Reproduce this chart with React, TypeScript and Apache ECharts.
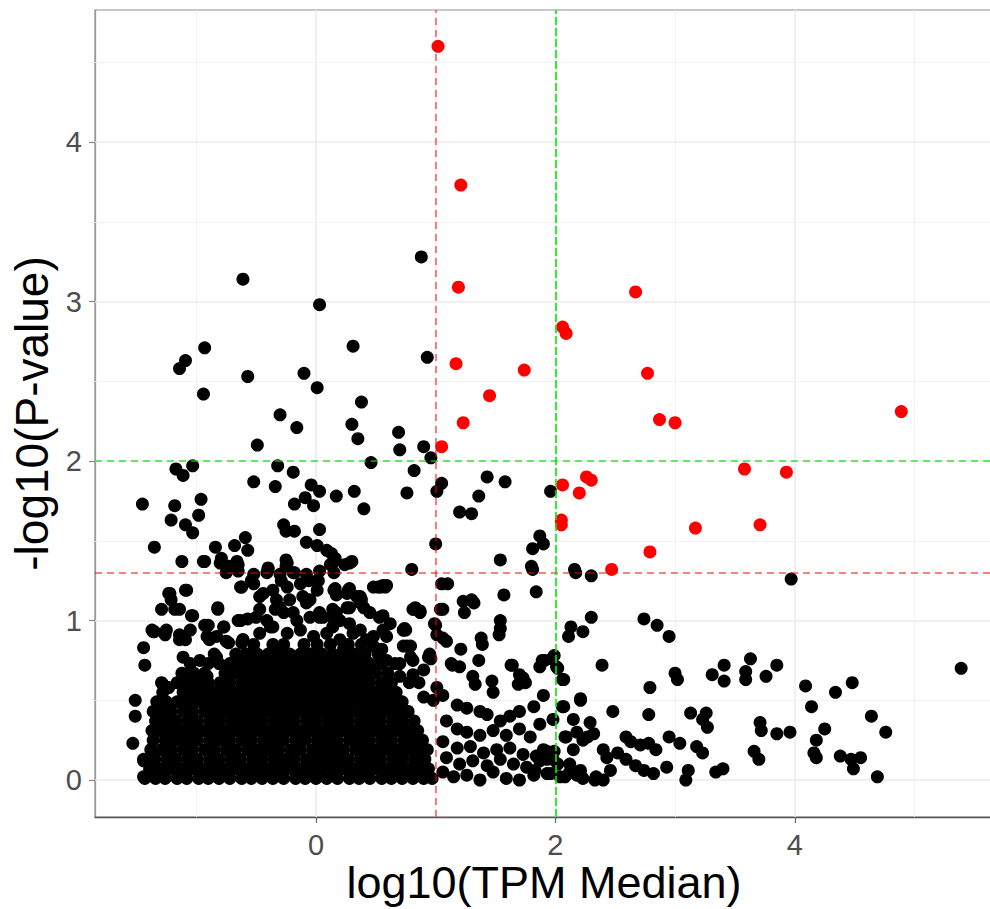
import React, { useEffect, useRef } from "react";
import * as echarts from "echarts";

// ---------------- data ----------------
const xTicks = [0, 2, 4];
const yTicks = [0, 1, 2, 3, 4];
const xMajorGrid = [0, 2, 4];
const xMinorGrid = [-1, 1, 3, 5];
const yMajorGrid = [0, 1, 2, 3, 4];
const yMinorGrid = [0.5, 1.5, 2.5, 3.5, 4.5];

const tpmRedCut = 1; // vertical red dashed
const tpmGreenCut = 2; // vertical green dashed
const pRedCut = 1.3; // horizontal red dashed
const pGreenCut = 2; // horizontal green dashed

// significant genes (red)
const sigGenes: [number, number][] = [
  [1.02, 4.6], [1.21, 3.73], [1.19, 3.09], [2.67, 3.06], [2.06, 2.84], [2.09, 2.8],
  [1.17, 2.61], [1.74, 2.57], [2.77, 2.55], [1.45, 2.41], [1.23, 2.24], [2.87, 2.26],
  [3.0, 2.24], [4.89, 2.31], [1.05, 2.09], [3.58, 1.95], [3.93, 1.93], [2.06, 1.85],
  [2.26, 1.9], [2.3, 1.88], [2.2, 1.8], [2.05, 1.63], [2.05, 1.6], [3.17, 1.58],
  [3.71, 1.6], [2.79, 1.43], [2.47, 1.32],
];

// black genes, sparse upper part
const upperGenes: [number, number][] = [
  [0.88, 3.28], [-0.61, 3.14], [0.03, 2.98], [-0.93, 2.71], [-1.09, 2.63], [-1.14, 2.58],
  [0.31, 2.72], [0.93, 2.65], [-0.57, 2.53], [-0.1, 2.55], [0.01, 2.46], [-0.94, 2.42],
  [0.38, 2.37], [-0.3, 2.29], [-0.16, 2.21], [0.3, 2.23], [0.35, 2.14], [0.69, 2.18],
  [0.7, 2.07], [0.9, 2.09], [0.96, 2.02], [-0.49, 2.1], [0.46, 1.99], [-1.17, 1.95],
  [-1.11, 1.91], [-1.03, 1.97], [-0.32, 1.97], [-0.19, 1.93], [0.82, 1.94], [-0.52, 1.87],
  [-0.34, 1.84], [-0.04, 1.85], [0.03, 1.81], [0.17, 1.78], [0.32, 1.81], [0.4, 1.7],
  [0.76, 1.8], [1.05, 1.86], [1.01, 1.81], [1.43, 1.9], [1.58, 1.87], [1.36, 1.78],
  [1.2, 1.68], [1.3, 1.67], [1.96, 1.81], [-1.45, 1.73], [-1.18, 1.72], [-1.21, 1.63],
  [-0.96, 1.76], [-0.98, 1.66], [-1.09, 1.6], [-1.03, 1.55], [-0.18, 1.73], [-0.09, 1.77],
  [-0.02, 1.72], [-0.27, 1.6], [-0.25, 1.56], [-0.18, 1.56], [0.03, 1.57], [-1.35, 1.46],
  [-0.59, 1.52], [-0.57, 1.44], [-0.68, 1.47], [-0.84, 1.46], [-1.12, 1.37], [-0.93, 1.37],
  [-0.08, 1.49], [0.01, 1.47], [0.09, 1.44], [0.13, 1.42], [0.3, 1.37], [-0.25, 1.38],
  [-0.4, 1.33], [1.0, 1.48], [1.87, 1.53], [1.81, 1.45], [1.9, 1.48], [1.54, 1.38],
  [1.8, 1.34], [2.16, 1.32], [0.8, 1.32], [-0.79, 1.39], [-0.65, 1.35], [-0.73, 1.34],
  [-0.25, 1.34], [0.12, 1.35], [0.24, 1.35], [0.16, 1.39], [0.28, 1.36],
];

// black genes, the band just above the dense core (0.85 < y < 1.4)
const bandGenes: [number, number][] = [
  [-0.75, 1.3], [-0.65, 1.31], [-0.52, 1.29], [-0.41, 1.3], [-0.3, 1.29], [-0.19, 1.3],
  [-0.08, 1.29], [0.03, 1.31], [0.15, 1.3], [-0.94, 1.37], [-0.8, 1.36], [-0.66, 1.37],
  [-0.24, 1.36], [0.15, 1.37], [-1.22, 1.17], [-1.08, 1.19], [-0.63, 1.21], [-0.52, 1.23],
  [-0.47, 1.15], [-0.36, 1.19], [-0.24, 1.21], [-0.13, 1.23], [0.01, 1.25], [0.15, 1.19],
  [0.28, 1.2], [0.37, 1.15], [0.54, 1.21], [0.59, 1.22], [-1.14, 1.07], [-1.03, 1.03],
  [-0.82, 1.07], [-0.63, 1.0], [-0.47, 1.07], [-0.41, 1.0], [-0.3, 1.08], [-0.19, 1.05],
  [-0.08, 1.11], [0.03, 1.05], [0.14, 1.07], [0.26, 1.08], [0.37, 1.11], [0.45, 1.05],
  [0.56, 1.03], [0.81, 1.07], [0.87, 1.06], [1.04, 1.07], [-1.36, 0.93], [-1.25, 0.94],
  [-1.14, 0.88], [-0.9, 0.97], [-0.77, 0.96], [-0.91, 0.9], [-0.75, 0.87], [-0.61, 0.88],
  [-0.47, 0.92], [-0.36, 0.96], [-0.24, 0.92], [-0.13, 0.94], [-0.02, 0.9], [0.09, 0.92],
  [0.2, 0.88], [0.31, 0.92], [0.42, 0.88], [0.59, 0.9], [0.73, 0.94], [0.79, 0.84],
];

// black genes, middle band on the left of x = 1
const midGenes: [number, number][] = [
  [-1.23, 1.17], [-1.09, 1.19], [-1.29, 1.07], [-1.18, 1.07], [-1.04, 1.03], [-0.82, 1.08],
  [-0.62, 1.21], [-0.54, 1.25], [-0.4, 1.32], [-0.29, 1.25], [-0.18, 1.3], [-0.06, 1.25],
  [0.02, 1.25], [0.16, 1.2], [0.27, 1.19], [0.38, 1.13], [0.52, 1.21], [0.58, 1.21],
  [0.83, 1.08], [1.05, 1.23], [-0.44, 1.17], [-0.33, 1.13], [-0.22, 1.13], [-0.11, 1.15],
  [0.01, 1.19], [0.26, 1.17], [0.34, 1.15], [0.48, 1.21], [0.56, 1.22], [-0.93, 0.97],
  [-0.77, 0.96], [-0.83, 0.9], [-1.37, 0.94], [-1.26, 0.91], [-1.14, 0.91], [-1.05, 0.94],
  [-1.44, 0.83], [-1.43, 0.72], [-0.65, 1.0], [-0.61, 0.88], [-0.5, 1.02], [-0.38, 0.96],
  [-0.27, 1.05], [-0.16, 1.0], [-0.05, 1.02], [0.06, 1.02], [0.17, 1.05], [0.28, 1.08],
  [0.4, 1.08], [0.62, 0.98], [0.73, 0.94], [0.53, 1.02], [0.56, 0.94], [0.73, 0.84],
  [0.81, 0.75], [0.9, 0.69], [0.95, 0.79], [-1.11, 0.77], [-0.97, 0.75], [-0.83, 0.77],
  [-1.05, 0.67], [-0.91, 0.65], [-1.29, 0.61], [-1.23, 0.58], [-1.35, 0.93], [-1.21, 1.13],
  [-0.89, 0.88], [-0.73, 0.86], [-1.09, 0.88], [-0.62, 0.86], [-0.59, 0.79], [-0.57, 1.01],
  [-0.34, 1.07], [-1.51, 0.5], [-1.51, 0.4], [-1.53, 0.23], [-1.44, 0.12], [-1.44, 0.02],
  [-1.28, 0.6], [0.74, 0.95], [0.87, 1.05], [0.76, 0.84], [0.79, 0.77], [0.94, 0.77],
  [0.99, 0.98], [1.01, 0.91], [1.01, 0.58], [0.98, 0.5], [0.81, 0.66], [0.86, 0.61],
  [0.9, 0.52], [0.7, 0.65], [0.66, 0.73], [0.17, 1.16], [0.14, 1.02], [0.2, 1.0],
  [-0.05, 1.13], [0.03, 1.02], [0.14, 0.96], [0.28, 0.98], [0.37, 0.94], [0.48, 0.9],
  [0.55, 0.82], [0.48, 0.84], [0.59, 0.75], [0.23, 0.82],
];

// black genes on the right of x = 1, below the red cut
const rightGenes: [number, number][] = [
  [1.13, 0.73], [1.2, 0.71], [1.31, 0.65], [1.33, 0.6], [1.47, 0.62], [1.48, 0.55],
  [1.63, 0.72], [1.7, 0.66], [1.69, 0.6], [1.75, 0.61], [1.87, 0.71], [1.91, 0.75],
  [1.97, 0.76], [2.01, 0.71], [2.07, 0.63], [1.9, 0.53], [2.07, 0.46], [2.21, 0.51],
  [1.06, 0.53], [1.18, 0.47], [1.26, 0.45], [1.37, 0.43], [1.43, 0.41], [1.54, 0.37],
  [1.62, 0.4], [1.7, 0.43], [1.82, 0.46], [1.87, 0.35], [1.98, 0.38], [1.09, 0.37],
  [1.18, 0.32], [1.26, 0.3], [1.37, 0.28], [1.48, 0.31], [1.59, 0.28], [1.7, 0.32],
  [1.79, 0.27], [2.15, 0.38], [2.29, 0.36], [2.09, 0.27], [2.23, 0.25], [2.32, 0.29],
  [1.06, 0.24], [1.18, 0.2], [1.29, 0.21], [1.4, 0.17], [1.51, 0.19], [1.62, 0.2],
  [1.73, 0.16], [1.84, 0.15], [1.93, 0.18], [1.06, 0.05], [1.15, 0.02], [1.26, 0.03],
  [1.37, 0.0], [1.48, 0.05], [1.59, 0.01], [1.7, 0.0], [1.82, 0.03], [1.93, 0.04],
  [2.04, 0.02], [2.12, 0.05], [2.23, 0.01], [2.33, 0.0], [1.09, 0.14], [1.2, 0.1],
  [1.31, 0.12], [1.43, 0.09], [1.54, 0.13], [1.65, 0.1], [1.76, 0.08], [1.87, 0.12],
  [1.98, 0.13], [2.59, 0.27], [2.63, 0.24], [2.71, 0.22], [2.78, 0.23], [2.84, 0.19],
  [2.52, 0.17], [2.59, 0.13], [2.67, 0.09], [2.74, 0.06], [2.82, 0.04], [2.4, 0.19],
  [2.43, 0.14], [2.46, 0.06], [2.34, 0.02], [2.4, 0.0], [2.08, 0.27], [2.18, 0.3],
  [2.27, 0.27], [2.15, 0.19], [2.12, 0.1], [2.21, 0.06], [2.08, 0.02], [2.18, 0.03],
  [1.9, 0.19], [1.93, 0.13], [1.83, 0.06], [1.96, 0.04], [1.99, 0.18], [2.02, 0.1],
  [3.04, 0.23], [3.18, 0.21], [3.23, 0.17], [2.93, 0.08], [2.95, 0.27], [3.09, 0.0],
  [3.11, 0.06], [3.4, 0.07], [3.34, 0.05], [3.66, 0.18], [3.7, 0.13], [4.16, 0.17],
  [4.18, 0.14], [4.38, 0.15], [4.47, 0.13], [4.55, 0.14], [4.49, 0.07], [4.69, 0.02],
  [4.14, 0.46], [4.25, 0.32], [4.18, 0.25], [4.64, 0.4], [4.76, 0.3], [3.71, 0.36],
  [3.72, 0.31], [3.85, 0.29], [3.96, 0.3], [3.13, 0.42], [3.26, 0.42], [3.23, 0.38],
  [3.27, 0.33], [2.78, 0.41], [2.48, 0.43], [2.21, 0.5], [2.06, 0.46], [2.06, 0.63],
  [2.79, 0.58], [3.0, 0.67], [3.02, 0.63], [3.31, 0.66], [3.41, 0.72], [3.41, 0.62],
  [3.59, 0.68], [3.59, 0.63], [3.63, 0.76], [3.76, 0.65], [3.85, 0.72], [4.09, 0.59],
  [4.34, 0.55], [4.48, 0.61], [5.39, 0.7], [2.39, 0.72], [2.13, 0.96], [2.11, 0.9],
  [2.23, 0.93], [2.3, 1.02], [2.74, 1.01], [2.85, 0.97], [2.95, 0.9], [1.54, 1.0],
  [1.54, 0.95], [1.53, 0.91], [1.38, 0.89], [1.39, 0.85], [1.06, 0.89], [1.09, 0.87],
  [1.21, 0.82], [0.96, 0.76], [1.14, 0.72], [1.36, 0.75], [1.64, 0.72], [1.73, 0.64],
  [1.89, 0.75], [1.99, 0.78], [2.02, 0.7], [0.75, 0.94], [1.0, 0.97], [1.06, 1.07],
  [0.82, 1.07], [1.23, 1.12], [1.32, 1.11], [1.24, 1.05], [1.57, 1.16], [1.84, 1.18],
  [1.3, 1.13], [1.1, 1.23], [3.97, 1.26], [2.17, 1.3], [2.3, 1.28], [1.81, 1.32],
];

// black genes, the dense core: each row is [-log10 p, list of log10 TPM]
const coreRows: [number, number[]][] = [
  [0.01, [-1.43, -1.34, -1.26, -1.16, -1.08, -0.98, -0.9, -0.81, -0.72, -0.62, -0.54, -0.45, -0.36, -0.27, -0.17, -0.09, 0.0, 0.09, 0.18, 0.28, 0.36, 0.45, 0.55, 0.63, 0.72, 0.81, 0.9, 0.97]],
  [0.07, [-1.39, -1.3, -1.21, -1.12, -1.03, -0.94, -0.85, -0.76, -0.67, -0.58, -0.49, -0.4, -0.31, -0.22, -0.13, -0.04, 0.05, 0.14, 0.23, 0.32, 0.41, 0.5, 0.59, 0.68, 0.77, 0.86, 0.94]],
  [0.13, [-1.44, -1.35, -1.25, -1.17, -1.07, -0.99, -0.89, -0.81, -0.71, -0.63, -0.53, -0.45, -0.35, -0.27, -0.18, -0.08, 0.01, 0.1, 0.18, 0.27, 0.37, 0.45, 0.54, 0.64, 0.72, 0.82, 0.91]],
  [0.19, [-1.38, -1.29, -1.21, -1.11, -1.03, -0.93, -0.85, -0.75, -0.67, -0.57, -0.49, -0.4, -0.31, -0.21, -0.13, -0.03, 0.05, 0.14, 0.23, 0.33, 0.41, 0.5, 0.59, 0.68, 0.77, 0.86, 0.93]],
  [0.25, [-1.36, -1.26, -1.17, -1.08, -0.99, -0.89, -0.81, -0.72, -0.62, -0.54, -0.44, -0.36, -0.27, -0.17, -0.09, 0.01, 0.09, 0.18, 0.28, 0.37, 0.45, 0.55, 0.63, 0.73, 0.81, 0.89]],
  [0.31, [-1.37, -1.3, -1.21, -1.12, -1.03, -0.94, -0.85, -0.76, -0.67, -0.58, -0.49, -0.4, -0.31, -0.22, -0.13, -0.04, 0.05, 0.14, 0.23, 0.32, 0.41, 0.5, 0.59, 0.68, 0.77, 0.85]],
  [0.37, [-1.34, -1.25, -1.17, -1.07, -0.99, -0.89, -0.81, -0.71, -0.63, -0.54, -0.45, -0.35, -0.27, -0.18, -0.08, 0.0, 0.1, 0.18, 0.27, 0.37, 0.45, 0.54, 0.64, 0.72, 0.82]],
  [0.43, [-1.36, -1.29, -1.21, -1.11, -1.03, -0.93, -0.85, -0.76, -0.67, -0.58, -0.49, -0.4, -0.31, -0.22, -0.13, -0.04, 0.05, 0.14, 0.23, 0.32, 0.41, 0.5, 0.59, 0.68, 0.77]],
  [0.49, [-1.33, -1.25, -1.16, -1.07, -0.98, -0.89, -0.8, -0.71, -0.62, -0.54, -0.45, -0.36, -0.27, -0.18, -0.09, 0.0, 0.09, 0.18, 0.27, 0.36, 0.45, 0.54, 0.63, 0.72]],
  [0.55, [-1.28, -1.11, -1.03, -0.94, -0.85, -0.76, -0.67, -0.58, -0.49, -0.4, -0.31, -0.22, -0.13, -0.04, 0.05, 0.14, 0.23, 0.32, 0.41, 0.5, 0.59, 0.67]],
  [0.61, [-1.16, -1.07, -0.98, -0.9, -0.8, -0.72, -0.62, -0.54, -0.45, -0.36, -0.27, -0.18, -0.09, 0.0, 0.09, 0.18, 0.27, 0.36, 0.45, 0.55, 0.63, 0.78]],
  [0.67, [-1.12, -1.02, -0.93, -0.76, -0.67, -0.58, -0.49, -0.4, -0.31, -0.22, -0.13, -0.04, 0.05, 0.14, 0.23, 0.32, 0.41, 0.5, 0.6]],
  [0.73, [-1.05, -0.9, -0.81, -0.72, -0.63, -0.54, -0.45, -0.36, -0.27, -0.18, -0.09, 0.0, 0.09, 0.18, 0.27, 0.36, 0.45, 0.54, 0.7]],
  [0.79, [-0.85, -0.67, -0.58, -0.49, -0.4, -0.31, -0.22, -0.13, -0.04, 0.05, 0.14, 0.23, 0.32, 0.41, 0.52]],
  [0.85, [-0.52, -0.36, -0.27, -0.1, 0.01, 0.12, 0.27, 0.38]],
];

// ---------------- chart ----------------
const X_MIN = -1.846;
const X_MAX = 5.656;
const Y_MIN = -0.232;
const Y_MAX = 4.828;
const FONT = '"Liberation Sans", Arial, Helvetica, sans-serif';

export default function App() {
  const ref = useRef<HTMLDivElement>(null);

  useEffect(() => {
    if (!ref.current) return;
    const chart = echarts.init(ref.current, undefined, { renderer: "svg" });

    const coreGenes: [number, number][] = [];
    coreRows.forEach(([y, xs]) => xs.forEach((x) => coreGenes.push([x, y])));
    const blackGenes = [...upperGenes, ...bandGenes, ...midGenes, ...rightGenes, ...coreGenes];

    const major = { color: "#ebebeb", width: 1.6, type: "solid" as const };
    const minor = { color: "#f2f2f2", width: 1, type: "solid" as const };
    const gridLines = [
      ...xMajorGrid.map((v) => ({ xAxis: v, lineStyle: major })),
      ...xMinorGrid.map((v) => ({ xAxis: v, lineStyle: minor })),
      ...yMajorGrid.map((v) => ({ yAxis: v, lineStyle: major })),
      ...yMinorGrid.map((v) => ({ yAxis: v, lineStyle: minor })),
    ];

    const redLine = { color: "rgba(255,0,0,0.5)", width: 2, type: [7, 5] as any };
    const greenH = { color: "rgba(0,230,0,0.6)", width: 2, type: [7, 5] as any };
    const greenV = { color: "#00ee00", width: 1.6, type: [8, 3] as any };

    chart.setOption({
      animation: false,
      backgroundColor: "#ffffff",
      grid: {
        left: 95,
        right: -3,
        top: 10,
        bottom: 92,
        show: true,
        containLabel: false,
        outerBoundsMode: "none",
        borderColor: "#8f8f8f",
        borderWidth: 1.2,
        backgroundColor: "transparent",
      },
      xAxis: {
        type: "value",
        min: X_MIN,
        max: X_MAX,
        name: "log10(TPM Median)",
        nameLocation: "middle",
        nameGap: 42,
        nameMoveOverlap: false,
        nameTextStyle: { fontSize: 45, lineHeight: 46, color: "#000000", fontFamily: FONT },
        axisLine: { show: true, onZero: false, lineStyle: { color: "#555555", width: 1.3 } },
        axisTick: { show: true, length: 6, customValues: xTicks, lineStyle: { color: "#666666", width: 1.2 } },
        axisLabel: { customValues: xTicks, fontSize: 29, lineHeight: 29, color: "#4d4d4d", margin: 13, fontFamily: FONT },
        splitLine: { show: false },
      },
      yAxis: {
        type: "value",
        min: Y_MIN,
        max: Y_MAX,
        name: "-log10(P-value)",
        nameLocation: "middle",
        nameGap: 27,
        nameRotate: 90,
        nameTextStyle: { fontSize: 46, color: "#000000", fontFamily: FONT },
        axisLine: { show: true, onZero: false, lineStyle: { color: "#999999", width: 1.3 } },
        axisTick: { show: true, length: 6, customValues: yTicks, lineStyle: { color: "#888888", width: 1.2 } },
        axisLabel: { customValues: yTicks, fontSize: 29, color: "#4d4d4d", margin: 13, fontFamily: FONT },
        splitLine: { show: false },
      },
      series: [
        {
          type: "line",
          data: [],
          silent: true,
          z: 1,
          markLine: {
            silent: true,
            symbol: ["none", "none"],
            label: { show: false },
            animation: false,
            z: 1,
            data: gridLines,
          },
        },
        {
          type: "scatter",
          data: blackGenes,
          symbol: "circle",
          symbolSize: 13,
          itemStyle: { color: "#000000", opacity: 1 },
          silent: true,
          z: 2,
        },
        {
          type: "scatter",
          data: sigGenes,
          symbol: "circle",
          symbolSize: 13,
          itemStyle: { color: "#ff0000", opacity: 1 },
          silent: true,
          z: 3,
        },
        {
          type: "line",
          data: [],
          silent: true,
          z: 4,
          markLine: {
            silent: true,
            symbol: ["none", "none"],
            label: { show: false },
            animation: false,
            z: 4,
            data: [
              { xAxis: tpmRedCut, lineStyle: redLine },
              { yAxis: pRedCut, lineStyle: redLine },
              { xAxis: tpmGreenCut, lineStyle: greenV },
              { yAxis: pGreenCut, lineStyle: greenH },
            ],
          },
        },
      ],
    });

    return () => chart.dispose();
  }, []);

  return (
    <div
      ref={ref}
      style={{ position: "absolute", left: 0, top: 0, width: 990, height: 909, background: "#ffffff" }}
    />
  );
}
